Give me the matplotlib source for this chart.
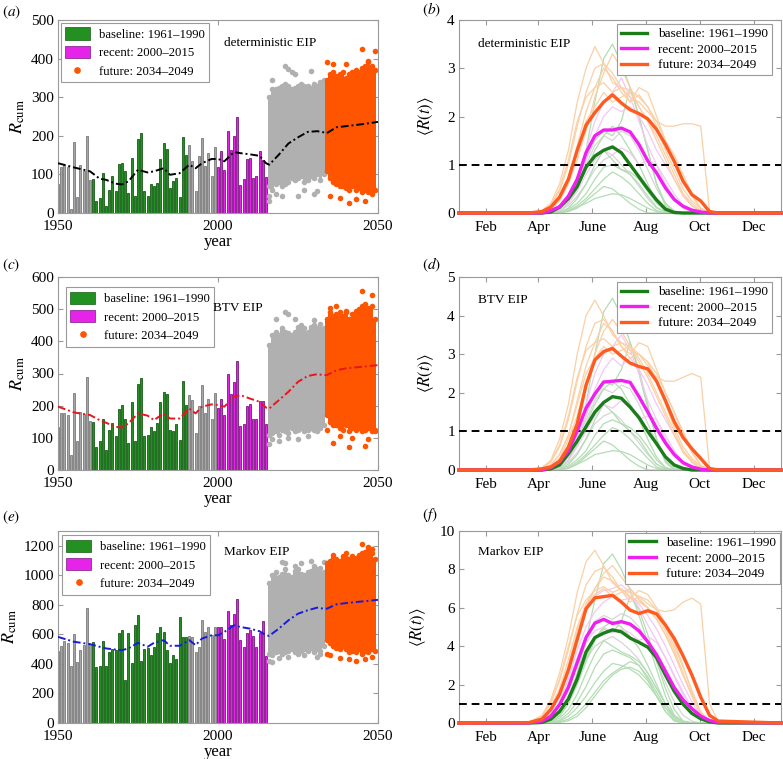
import numpy as np
import matplotlib
matplotlib.use("Agg")
import matplotlib.pyplot as plt
from matplotlib.patches import Patch
from matplotlib.lines import Line2D

plt.rcParams["font.family"] = ["Liberation Serif", "DejaVu Serif"]
plt.rcParams["mathtext.fontset"] = "stix"

# ----------------------------
# Data: left panels (annual R_cum)
# ----------------------------
hist_years = list(range(1950, 2016))

rcum_det = ([75, 120, 125, 118, 10, 183, 42, 125, 110, 200, 85]
            + [88, 30, 39, 103, 17, 60, 97, 56, 126, 129, 109, 53, 143, 45, 193,
               207, 56, 43, 75, 69, 79, 141, 181, 166, 65, 84, 90, 41, 198, 149]
            + [175, 135, 58, 148, 195, 122, 156, 95, 172]
            + [118, 160, 112, 213, 164, 200, 248, 72, 89, 141, 143, 90, 97, 160, 137, 92])

rcum_btv = ([134, 178, 176, 172, 47, 238, 90, 179, 174, 288, 152]
            + [150, 70, 91, 160, 62, 124, 147, 107, 190, 201, 160, 85, 212, 91, 267,
               286, 106, 109, 134, 121, 145, 212, 243, 236, 124, 121, 142, 93, 276, 201]
            + [233, 219, 116, 200, 265, 178, 222, 160, 238]
            + [193, 220, 170, 300, 235, 273, 340, 138, 143, 200, 205, 158, 158, 216, 216, 143])

rcum_mkv = ([488, 519, 555, 540, 384, 605, 414, 492, 526, 780, 537]
            + [550, 381, 388, 554, 386, 482, 500, 493, 610, 628, 292, 610, 408, 662, 729,
               419, 500, 509, 460, 516, 612, 650, 617, 493, 408, 460, 433, 718, 583, 583]
            + [590, 583, 482, 516, 700, 617, 650, 594, 650]
            + [650, 650, 572, 758, 662, 740, 837, 565, 516, 606, 628, 588, 516, 610, 691, 455])

# running mean
trend_years = [1950, 1955, 1960, 1963, 1965, 1968, 1970, 1972, 1975, 1978, 1980, 1983,
               1985, 1988, 1991, 1993, 1995, 1998, 2000, 2002, 2005, 2007, 2010, 2013,
               2015, 2016, 2019, 2022, 2025, 2028, 2031, 2033, 2034, 2037, 2040, 2045, 2050]
trend_det = [129, 118, 108, 89, 86, 76, 74, 82, 112, 105, 108, 116, 99, 103, 125, 116,
             129, 140, 140, 134, 158, 155, 152, 148, 129, 125, 151, 180, 196, 210, 212,
             209, 207, 222, 225, 230, 236]
trend_btv = [197, 179, 171, 155, 147, 134, 132, 145, 176, 169, 155, 176, 160, 160, 191,
             176, 197, 204, 202, 197, 228, 233, 222, 212, 194, 191, 217, 243, 274, 292,
             298, 295, 295, 310, 316, 321, 326]
trend_mkv = [583, 550, 534, 516, 505, 497, 493, 505, 543, 516, 543, 561, 523, 523, 561,
             527, 572, 594, 594, 617, 662, 650, 639, 621, 594, 590, 639, 695, 740, 763,
             781, 774, 774, 803, 812, 823, 834]

# projected ensembles: per-year spread (low, high) plus stray points
proj_years = list(range(2016, 2034))
fut_years = list(range(2034, 2050))

proj_lo_det = [70, 60, 75, 80, 70, 75, 80, 90, 85, 90, 95, 80, 85, 95, 90, 100, 85, 100]
proj_hi_det = [300, 320, 320, 325, 330, 335, 330, 320, 325, 330, 335, 330, 330, 325, 335, 330, 340, 345]
proj_out_det = [(2016, 30), (2016, 45), (2017, 345), (2021, 380), (2022, 372), (2023, 365),
                (2018, 50), (2020, 45), (2025, 45), (2030, 50), (2027, 60), (2031, 58),
                (2024, 360), (2029, 368)]
fut_lo_det = [110, 90, 80, 75, 70, 70, 65, 60, 70, 60, 65, 55, 60, 55, 60, 60]
fut_hi_det = [345, 360, 365, 355, 360, 365, 350, 360, 365, 370, 365, 375, 380, 390, 380, 370]
fut_out_det = [(2034, 390), (2036, 385), (2038, 40), (2041, 25), (2045, 425), (2046, 30),
               (2047, 395), (2049, 420), (2040, 385), (2043, 35), (2048, 50), (2035, 45)]

proj_lo_btv = [110, 115, 120, 110, 125, 120, 115, 130, 120, 125, 130, 120, 125, 130, 125, 135, 130, 140]
proj_hi_btv = [390, 420, 430, 420, 440, 430, 425, 420, 430, 445, 450, 440, 430, 445, 450, 440, 455, 440]
proj_out_btv = [(2016, 80), (2017, 95), (2019, 90), (2022, 100), (2025, 95), (2028, 105),
                (2031, 120), (2021, 490), (2022, 485), (2024, 470), (2030, 465), (2018, 470)]
fut_lo_btv = [170, 150, 140, 140, 130, 125, 140, 120, 130, 125, 130, 120, 125, 130, 120, 125]
fut_hi_btv = [470, 490, 480, 485, 490, 480, 490, 470, 485, 495, 500, 510, 515, 505, 510, 470]
fut_out_btv = [(2035, 505), (2037, 510), (2040, 495), (2045, 555), (2048, 545), (2036, 85),
               (2041, 70), (2046, 75), (2042, 100), (2038, 105), (2034, 125), (2049, 120),
               (2047, 95)]

proj_lo_mkv = [470, 460, 480, 490, 470, 480, 490, 500, 480, 470, 490, 500, 490, 510, 480, 500, 490, 520]
proj_hi_mkv = [950, 1000, 1020, 990, 1010, 1040, 1000, 990, 1030, 1040, 1010, 1000, 1020, 1030, 1060, 1040, 1050, 1020]
proj_out_mkv = [(2016, 420), (2017, 410), (2019, 440), (2022, 450), (2027, 460), (2031, 445),
                (2032, 470), (2020, 1090), (2021, 1080), (2024, 1060), (2026, 1080),
                (2029, 1100), (2033, 1090)]
fut_lo_mkv = [560, 540, 520, 510, 500, 520, 500, 480, 490, 480, 500, 470, 490, 480, 500, 490]
fut_hi_mkv = [1080, 1100, 1120, 1110, 1100, 1130, 1120, 1110, 1130, 1120, 1140, 1150, 1160, 1170, 1150, 1110]
fut_out_mkv = [(2034, 470), (2035, 460), (2038, 440), (2041, 430), (2043, 420), (2046, 430),
               (2048, 445), (2036, 1140), (2040, 1150), (2045, 1210), (2047, 1190), (2048, 1180)]

# ----------------------------
# Data: right panels (seasonal <R(t)>)
# ----------------------------
days = [1, 80, 95, 105, 115, 125, 135, 145, 155, 165, 175, 185, 195, 205, 215, 225,
        235, 245, 255, 265, 275, 285, 295, 366]
month_days = [32, 91, 152, 213, 274, 335]
month_labels = ["Feb", "Apr", "June", "Aug", "Oct", "Dec"]

# deterministic EIP
base_b = [0, 0, 0, 0.02, 0.12, 0.3, 0.55, 0.95, 1.18, 1.3, 1.37, 1.25, 1.0, 0.75, 0.5, 0.27, 0.08, 0.01, 0, 0, 0, 0, 0, 0]
rec_b = [0, 0, 0, 0.05, 0.13, 0.35, 0.7, 1.25, 1.6, 1.72, 1.72, 1.76, 1.68, 1.42, 1.08, 0.83, 0.52, 0.28, 0.14, 0.06, 0.02, 0, 0, 0]
fut_b = [0, 0, 0.03, 0.12, 0.33, 0.7, 1.3, 1.82, 2.08, 2.3, 2.45, 2.28, 2.14, 2.06, 1.95, 1.73, 1.42, 1.07, 0.66, 0.38, 0.25, 0.03, 0, 0]
yrs_b = {
    "orange": [
        [0, 0, 0.05, 0.2, 0.6, 1.3, 2.3, 3.0, 3.45, 3.1, 2.7, 2.6, 2.55, 2.4, 2.2, 1.8, 1.3, 0.9, 0.5, 0.25, 0.1, 0, 0, 0],
        [0, 0, 0.03, 0.15, 0.45, 1.0, 1.8, 2.5, 3.0, 3.1, 2.9, 2.6, 2.3, 2.45, 2.2, 1.9, 1.8, 1.8, 1.85, 1.85, 1.8, 0.05, 0, 0],
        [0, 0, 0.02, 0.1, 0.3, 0.7, 1.3, 1.9, 2.2, 2.5, 2.3, 2.4, 2.5, 2.2, 1.9, 1.6, 1.2, 0.8, 0.4, 0.2, 0.05, 0, 0, 0],
        [0, 0, 0.02, 0.08, 0.25, 0.6, 1.1, 1.7, 2.4, 2.9, 3.3, 3.0, 2.6, 2.2, 1.9, 1.5, 1.1, 0.7, 0.35, 0.15, 0.03, 0, 0, 0],
        [0, 0, 0.04, 0.18, 0.5, 1.1, 1.9, 2.4, 2.6, 2.7, 2.5, 2.6, 2.4, 2.3, 2.1, 1.9, 1.5, 1.1, 0.7, 0.35, 0.1, 0, 0, 0],
        [0, 0, 0.03, 0.1, 0.3, 0.7, 1.4, 2.1, 2.6, 3.0, 2.8, 2.5, 2.3, 2.6, 2.5, 2.0, 1.5, 1.2, 0.8, 0.4, 0.1, 0, 0, 0]],
    "green": [
        [0, 0, 0, 0, 0.05, 0.2, 0.6, 1.3, 2.3, 3.2, 3.5, 3.1, 2.6, 2.0, 1.3, 0.6, 0.15, 0, 0, 0, 0, 0, 0, 0],
        [0, 0, 0, 0, 0, 0.05, 0.15, 0.3, 0.5, 0.7, 0.85, 0.75, 0.6, 0.4, 0.2, 0.05, 0, 0, 0, 0, 0, 0, 0, 0],
        [0, 0, 0, 0.01, 0.08, 0.25, 0.6, 1.1, 1.5, 1.7, 1.6, 1.9, 2.6, 2.0, 1.3, 0.6, 0.2, 0.02, 0, 0, 0, 0, 0, 0],
        [0, 0, 0, 0, 0.02, 0.1, 0.3, 0.6, 1.0, 1.3, 1.1, 0.9, 0.8, 0.6, 0.35, 0.12, 0.02, 0, 0, 0, 0, 0, 0, 0],
        [0, 0, 0, 0, 0, 0.03, 0.1, 0.25, 0.4, 0.55, 0.5, 0.35, 0.2, 0.08, 0, 0, 0, 0, 0, 0, 0, 0, 0, 0],
        [0, 0, 0, 0, 0.02, 0.08, 0.2, 0.4, 0.7, 0.95, 1.0, 0.9, 0.85, 0.7, 0.45, 0.2, 0.05, 0, 0, 0, 0, 0, 0, 0],
        [0, 0, 0, 0.01, 0.05, 0.2, 0.5, 0.9, 1.3, 1.6, 1.8, 1.6, 1.3, 1.0, 0.6, 0.25, 0.05, 0, 0, 0, 0, 0, 0, 0],
        [0, 0, 0, 0, 0.01, 0.05, 0.12, 0.2, 0.3, 0.35, 0.4, 0.38, 0.3, 0.2, 0.1, 0.03, 0, 0, 0, 0, 0, 0, 0, 0]],
    "pink": [
        [0, 0, 0, 0.03, 0.1, 0.3, 0.7, 1.3, 1.9, 2.3, 2.5, 2.8, 2.4, 1.9, 1.4, 1.0, 0.6, 0.3, 0.1, 0.03, 0, 0, 0, 0],
        [0, 0, 0, 0.02, 0.06, 0.2, 0.45, 0.8, 1.1, 1.3, 1.2, 1.35, 1.25, 1.0, 1.1, 1.0, 0.7, 0.4, 0.15, 0.05, 0, 0, 0, 0],
        [0, 0, 0, 0.02, 0.08, 0.25, 0.6, 1.1, 1.6, 2.0, 2.2, 2.1, 2.2, 2.0, 1.7, 1.3, 1.0, 0.7, 0.4, 0.15, 0.03, 0, 0, 0]],
    "gray": [
        [0, 0, 0, 0.02, 0.1, 0.3, 0.6, 1.0, 1.4, 1.6, 1.5, 1.7, 1.6, 1.3, 0.9, 0.5, 0.2, 0.05, 0, 0, 0, 0, 0, 0],
        [0, 0, 0, 0.01, 0.05, 0.15, 0.35, 0.6, 0.9, 1.1, 1.2, 1.0, 0.8, 0.55, 0.3, 0.1, 0.02, 0, 0, 0, 0, 0, 0, 0]],
}

# BTV EIP
base_d = [0, 0, 0, 0.03, 0.13, 0.42, 0.75, 1.12, 1.5, 1.75, 1.9, 1.86, 1.63, 1.36, 1.0, 0.68, 0.34, 0.13, 0.04, 0, 0, 0, 0, 0]
rec_d = [0, 0, 0, 0.06, 0.22, 0.5, 1.02, 1.6, 1.97, 2.28, 2.3, 2.32, 2.27, 1.9, 1.5, 1.08, 0.7, 0.4, 0.19, 0.08, 0.02, 0, 0, 0]
fut_d = [0, 0, 0.03, 0.08, 0.22, 0.6, 1.2, 2.2, 2.85, 3.07, 3.15, 2.95, 2.77, 2.68, 2.62, 2.3, 1.8, 1.25, 0.84, 0.55, 0.3, 0.04, 0, 0]
yrs_d = {
    "orange": [
        [0, 0, 0.06, 0.25, 0.8, 1.7, 3.0, 4.0, 4.4, 4.0, 3.5, 3.3, 3.2, 3.0, 2.8, 2.3, 1.7, 1.1, 0.6, 0.3, 0.1, 0, 0, 0],
        [0, 0, 0.04, 0.2, 0.6, 1.3, 2.3, 3.2, 3.8, 3.9, 3.6, 3.2, 2.9, 3.0, 2.7, 2.4, 2.3, 2.3, 2.4, 2.5, 2.4, 0.05, 0, 0],
        [0, 0, 0.03, 0.12, 0.4, 0.9, 1.7, 2.5, 2.9, 3.2, 3.0, 3.1, 3.2, 2.9, 2.5, 2.0, 1.5, 1.0, 0.5, 0.25, 0.06, 0, 0, 0],
        [0, 0, 0.03, 0.1, 0.3, 0.8, 1.4, 2.2, 3.0, 3.6, 3.9, 3.6, 3.2, 2.8, 2.4, 1.9, 1.4, 0.9, 0.45, 0.2, 0.04, 0, 0, 0],
        [0, 0, 0.05, 0.22, 0.65, 1.4, 2.4, 3.1, 3.3, 3.4, 3.2, 3.3, 3.1, 3.0, 2.8, 2.5, 2.0, 1.5, 0.9, 0.45, 0.12, 0, 0, 0],
        [0, 0, 0.04, 0.13, 0.4, 0.9, 1.8, 2.7, 3.3, 3.8, 3.6, 3.2, 3.0, 3.3, 3.2, 2.6, 2.0, 1.5, 1.0, 0.5, 0.12, 0, 0, 0]],
    "green": [
        [0, 0, 0, 0, 0.06, 0.25, 0.8, 1.7, 3.0, 4.1, 4.45, 4.0, 3.3, 2.5, 1.6, 0.8, 0.2, 0, 0, 0, 0, 0, 0, 0],
        [0, 0, 0, 0, 0, 0.06, 0.2, 0.4, 0.65, 0.9, 1.1, 1.0, 0.8, 0.55, 0.3, 0.08, 0, 0, 0, 0, 0, 0, 0, 0],
        [0, 0, 0, 0.01, 0.1, 0.35, 0.8, 1.4, 2.0, 2.3, 2.2, 2.6, 3.3, 2.6, 1.7, 0.8, 0.25, 0.03, 0, 0, 0, 0, 0, 0],
        [0, 0, 0, 0, 0.03, 0.15, 0.4, 0.8, 1.3, 1.7, 1.5, 1.2, 1.0, 0.8, 0.45, 0.15, 0.03, 0, 0, 0, 0, 0, 0, 0],
        [0, 0, 0, 0, 0, 0.04, 0.15, 0.35, 0.55, 0.75, 0.65, 0.45, 0.25, 0.1, 0, 0, 0, 0, 0, 0, 0, 0, 0, 0],
        [0, 0, 0, 0, 0.03, 0.1, 0.26, 0.5, 0.9, 1.2, 1.3, 1.2, 1.1, 0.9, 0.6, 0.26, 0.06, 0, 0, 0, 0, 0, 0, 0],
        [0, 0, 0, 0.01, 0.06, 0.26, 0.65, 1.2, 1.7, 2.1, 2.3, 2.1, 1.7, 1.3, 0.8, 0.33, 0.06, 0, 0, 0, 0, 0, 0, 0],
        [0, 0, 0, 0, 0.01, 0.06, 0.15, 0.26, 0.4, 0.45, 0.5, 0.48, 0.4, 0.26, 0.13, 0.04, 0, 0, 0, 0, 0, 0, 0, 0]],
    "pink": [
        [0, 0, 0, 0.04, 0.15, 0.4, 0.9, 1.7, 2.5, 3.0, 3.2, 3.5, 3.1, 2.5, 1.8, 1.3, 0.8, 0.4, 0.15, 0.04, 0, 0, 0, 0],
        [0, 0, 0, 0.03, 0.08, 0.25, 0.6, 1.0, 1.4, 1.7, 1.6, 1.8, 1.6, 1.3, 1.4, 1.3, 0.9, 0.5, 0.2, 0.06, 0, 0, 0, 0],
        [0, 0, 0, 0.03, 0.1, 0.33, 0.8, 1.4, 2.1, 2.6, 2.9, 2.7, 2.9, 2.6, 2.2, 1.7, 1.3, 0.9, 0.5, 0.2, 0.04, 0, 0, 0]],
    "gray": [
        [0, 0, 0, 0.03, 0.12, 0.4, 0.8, 1.3, 1.8, 2.1, 2.0, 2.2, 2.1, 1.7, 1.2, 0.7, 0.3, 0.06, 0, 0, 0, 0, 0, 0],
        [0, 0, 0, 0.01, 0.06, 0.2, 0.45, 0.8, 1.2, 1.4, 1.5, 1.3, 1.0, 0.7, 0.4, 0.15, 0.03, 0, 0, 0, 0, 0, 0, 0]],
}

# Markov EIP
base_f = [0, 0, 0.03, 0.2, 0.6, 1.25, 2.3, 3.7, 4.45, 4.68, 4.85, 4.75, 4.42, 4.2, 3.95, 3.4, 2.5, 1.65, 0.98, 0.5, 0.22, 0.06, 0, 0]
rec_f = [0, 0, 0.1, 0.35, 0.95, 1.85, 3.14, 4.45, 5.2, 5.4, 5.18, 5.28, 5.15, 4.8, 4.23, 3.55, 2.7, 1.85, 1.2, 0.75, 0.36, 0.13, 0.03, 0]
fut_f = [0, 0.02, 0.2, 0.7, 1.5, 2.75, 4.35, 5.95, 6.52, 6.58, 6.65, 6.3, 5.88, 5.7, 5.85, 5.68, 5.1, 4.4, 3.5, 2.5, 1.35, 0.4, 0.1, 0]
yrs_f = {
    "orange": [
        [0, 0.03, 0.4, 1.2, 2.6, 4.5, 6.8, 8.4, 9.0, 8.2, 7.3, 6.9, 6.8, 6.6, 6.4, 5.9, 5.0, 4.0, 2.9, 1.7, 0.6, 0.1, 0, 0],
        [0, 0.02, 0.3, 1.0, 2.2, 3.8, 5.7, 7.2, 7.9, 8.1, 7.6, 6.9, 6.3, 6.6, 6.2, 5.9, 5.8, 5.9, 6.3, 6.5, 6.2, 1.0, 0.05, 0],
        [0, 0.02, 0.25, 0.8, 1.8, 3.3, 5.0, 6.2, 6.7, 7.0, 6.6, 6.8, 7.0, 6.5, 6.0, 5.4, 4.6, 3.6, 2.5, 1.4, 0.5, 0.08, 0, 0],
        [0, 0.01, 0.2, 0.7, 1.6, 3.0, 4.6, 6.0, 7.0, 7.8, 8.2, 7.6, 7.0, 6.4, 6.0, 5.4, 4.6, 3.6, 2.5, 1.5, 0.5, 0.08, 0, 0],
        [0, 0.02, 0.35, 1.1, 2.3, 4.0, 5.6, 6.4, 6.9, 7.1, 6.8, 7.0, 6.6, 6.3, 6.0, 5.6, 4.8, 3.8, 2.6, 1.4, 0.4, 0.05, 0, 0],
        [0, 0.01, 0.25, 0.7, 1.6, 3.0, 4.8, 6.2, 7.0, 7.6, 7.4, 6.9, 6.5, 6.9, 6.7, 6.0, 5.2, 4.2, 3.0, 1.6, 0.45, 0.05, 0, 0]],
    "green": [
        [0, 0, 0.02, 0.15, 0.5, 1.3, 2.6, 4.3, 6.4, 8.3, 8.8, 8.0, 6.9, 5.6, 4.2, 2.8, 1.4, 0.4, 0.05, 0, 0, 0, 0, 0],
        [0, 0, 0, 0.02, 0.1, 0.35, 0.8, 1.4, 2.1, 2.7, 3.1, 3.0, 2.8, 2.5, 2.0, 1.4, 0.8, 0.3, 0.05, 0, 0, 0, 0, 0],
        [0, 0, 0.01, 0.1, 0.4, 1.0, 2.0, 3.2, 4.3, 4.9, 4.7, 5.3, 6.6, 5.9, 4.6, 3.2, 1.8, 0.7, 0.1, 0, 0, 0, 0, 0],
        [0, 0, 0.01, 0.05, 0.25, 0.7, 1.5, 2.6, 3.6, 4.3, 4.0, 3.7, 3.5, 3.2, 2.6, 1.8, 1.0, 0.35, 0.05, 0, 0, 0, 0, 0],
        [0, 0, 0, 0.01, 0.06, 0.2, 0.5, 1.0, 1.6, 2.2, 2.6, 2.9, 3.2, 3.0, 2.4, 1.6, 0.8, 0.2, 0, 0, 0, 0, 0, 0],
        [0, 0, 0, 0.03, 0.15, 0.5, 1.1, 1.9, 2.9, 3.6, 3.8, 3.6, 3.4, 3.0, 2.3, 1.4, 0.6, 0.15, 0, 0, 0, 0, 0, 0],
        [0, 0, 0.01, 0.08, 0.35, 1.0, 2.1, 3.4, 4.4, 5.0, 5.3, 5.0, 4.5, 3.9, 3.0, 2.0, 1.0, 0.3, 0.05, 0, 0, 0, 0, 0],
        [0, 0, 0, 0, 0.03, 0.12, 0.35, 0.8, 1.4, 2.0, 2.5, 2.8, 2.9, 2.7, 2.2, 1.4, 0.6, 0.1, 0, 0, 0, 0, 0, 0]],
    "pink": [
        [0, 0.01, 0.1, 0.5, 1.4, 2.8, 4.5, 5.8, 6.6, 6.9, 7.0, 7.2, 6.8, 6.0, 5.1, 4.3, 3.4, 2.5, 1.6, 0.8, 0.25, 0.04, 0, 0],
        [0, 0, 0.05, 0.3, 0.9, 1.9, 3.2, 4.2, 4.8, 5.0, 4.7, 4.9, 4.7, 4.3, 4.5, 4.2, 3.4, 2.4, 1.5, 0.8, 0.3, 0.05, 0, 0],
        [0, 0, 0.05, 0.35, 1.1, 2.3, 3.8, 5.0, 5.8, 6.3, 6.6, 6.4, 6.5, 6.2, 5.6, 4.9, 4.0, 3.0, 2.0, 1.1, 0.4, 0.08, 0, 0]],
    "gray": [
        [0, 0, 0.05, 0.3, 1.0, 2.1, 3.4, 4.5, 5.3, 5.6, 5.4, 5.7, 5.5, 5.0, 4.2, 3.2, 2.1, 1.1, 0.4, 0.1, 0, 0, 0, 0],
        [0, 0, 0.03, 0.2, 0.6, 1.4, 2.4, 3.3, 4.0, 4.3, 4.5, 4.2, 3.8, 3.3, 2.6, 1.8, 1.0, 0.4, 0.1, 0.02, 0, 0, 0, 0]],
}

# ----------------------------
# Styles
# ----------------------------
GREEN, GREEN_EDGE = "#229122", "#145c14"
MAGENTA, MAGENTA_EDGE = "#e623e8", "#7c1684"
GRAY_BAR, GRAY_EDGE = "#a6a6a6", "#7a7a7a"
DOT_GRAY = "#b0b0b0"
ORANGE = "#ff5500"
LINE_GREEN, LINE_MAG, LINE_ORANGE = "#1a7d1a", "#f01ef0", "#ff5a1f"
THIN = {"gray": "#d6d6d6", "green": "#b3ddb3", "pink": "#f4c8f4", "orange": "#fbd0a6"}
SPINE = "#9a9a9a"
LABELS = ["baseline: 1961\u20131990", "recent: 2000\u20132015", "future: 2034\u20132049"]


def style_axes(ax):
    for s in ax.spines.values():
        s.set_color(SPINE)
        s.set_linewidth(0.8)
    ax.tick_params(direction="in", top=True, right=True, length=3.5,
                   color=SPINE, labelsize=11, pad=3)


def bar_colors(year):
    if 1961 <= year <= 1990:
        return GREEN, GREEN_EDGE
    if 2000 <= year <= 2015:
        return MAGENTA, MAGENTA_EDGE
    return GRAY_BAR, GRAY_EDGE


def left_panel(ax, vals, trend, tcolor, p_lo, p_hi, p_out, f_lo, f_hi, f_out,
               ymax, yticks, note, leg_anchor):
    cols = [bar_colors(y) for y in hist_years]
    ax.bar(hist_years, vals, width=0.62, color=[c[0] for c in cols],
           edgecolor=[c[1] for c in cols], linewidth=0.6, zorder=2)

    for yrs, lo, hi, out, col in [(proj_years, p_lo, p_hi, p_out, DOT_GRAY),
                                  (fut_years, f_lo, f_hi, f_out, ORANGE)]:
        ax.bar(yrs, np.subtract(hi, lo), bottom=lo, width=1.0, color=col,
               linewidth=0, zorder=2)
        ax.scatter(yrs, lo, s=16, color=col, linewidths=0, zorder=2)
        ax.scatter(yrs, hi, s=16, color=col, linewidths=0, zorder=2)
        ox, oy = zip(*out)
        ax.scatter(ox, oy, s=16, color=col, linewidths=0, zorder=2)

    ax.plot(trend_years, trend, color=tcolor, lw=1.4, dashes=(4, 1.5, 1, 1.5), zorder=4)

    ax.set_xlim(1950, 2050)
    ax.set_ylim(0, ymax)
    ax.set_xticks([1950, 2000, 2050])
    ax.set_yticks(yticks)
    ax.set_ylabel(r"$R_{\mathrm{cum}}$", fontsize=13, labelpad=3)
    style_axes(ax)
    ax.tick_params(axis="x", pad=5)
    ax.set_xlabel("year", fontsize=12, labelpad=1)

    handles = [Patch(facecolor=GREEN, edgecolor=GREEN_EDGE, linewidth=0.5),
               Patch(facecolor=MAGENTA, edgecolor=MAGENTA_EDGE, linewidth=0.5),
               Line2D([], [], ls="", marker="o", ms=3.8, color=ORANGE)]
    leg = ax.legend(handles, LABELS, loc="upper left", bbox_to_anchor=leg_anchor,
                    bbox_transform=ax.transAxes, borderaxespad=0, fontsize=9.2,
                    fancybox=False, framealpha=1, edgecolor=SPINE,
                    handlelength=1.9, handleheight=1.1, labelspacing=0.4,
                    borderpad=0.35, handletextpad=0.7)
    leg.get_frame().set_linewidth(0.8)
    ax.text(note[1][0], note[1][1], note[0], transform=ax.transAxes,
            fontsize=9.5, va="center", zorder=10)


def right_panel(ax, base, rec, fut, thin, ymax, yticks, note, leg_anchor):
    for key in ["gray", "green", "pink", "orange"]:
        for curve in thin[key]:
            ax.plot(days, curve, color=THIN[key], lw=0.9, zorder=2)
    ax.axhline(1, color="k", lw=1.4, dashes=(4, 2.5), zorder=3)
    ax.plot(days, base, color=LINE_GREEN, lw=2.4, label=LABELS[0], zorder=4, clip_on=False)
    ax.plot(days, rec, color=LINE_MAG, lw=2.4, label=LABELS[1], zorder=5, clip_on=False)
    ax.plot(days, fut, color=LINE_ORANGE, lw=2.4, label=LABELS[2], zorder=6, clip_on=False)

    ax.set_xlim(1, 366)
    ax.set_ylim(0, ymax)
    ax.set_xticks(month_days)
    ax.set_xticklabels(month_labels)
    ax.set_yticks(yticks)
    ax.set_ylabel(r"$\langle R(t)\rangle$", fontsize=12, labelpad=8)
    style_axes(ax)
    ax.tick_params(axis="x", pad=6)

    leg = ax.legend(loc="upper right", bbox_to_anchor=leg_anchor,
                    bbox_transform=ax.transAxes, borderaxespad=0,
                    fontsize=9.5, fancybox=False, framealpha=1, edgecolor=SPINE,
                    handlelength=2.0, labelspacing=0.25, borderpad=0.3,
                    handletextpad=0.8)
    leg.get_frame().set_linewidth(0.8)
    ax.text(0.06, note[1], note[0], transform=ax.transAxes, fontsize=9.5, va="center")


# ----------------------------
# Plot
# ----------------------------
fig = plt.figure(figsize=(7.83, 7.59), dpi=100)

W, H = 783.0, 759.0
rows = [(20, 213), (277, 470), (531, 723)]
left_x, left_w = 58 / W, 320 / W
right_x, right_w = 459 / W, 322 / W


def rect(x, w, top, bot):
    return [x, 1 - bot / H, w, (bot - top) / H]


ax_a = fig.add_axes(rect(left_x, left_w, *rows[0]))
ax_b = fig.add_axes(rect(right_x, right_w, *rows[0]))
ax_c = fig.add_axes(rect(left_x, left_w, *rows[1]))
ax_d = fig.add_axes(rect(right_x, right_w, *rows[1]))
ax_e = fig.add_axes(rect(left_x, left_w, *rows[2]))
ax_f = fig.add_axes(rect(right_x, right_w, *rows[2]))

left_panel(ax_a, rcum_det, trend_det, "black", proj_lo_det, proj_hi_det, proj_out_det,
           fut_lo_det, fut_hi_det, fut_out_det, 500, range(0, 501, 100),
           ("deterministic EIP", (0.52, 0.88)), (0.009, 0.985))
left_panel(ax_c, rcum_btv, trend_btv, "#e8141e", proj_lo_btv, proj_hi_btv, proj_out_btv,
           fut_lo_btv, fut_hi_btv, fut_out_btv, 600, range(0, 601, 100),
           ("BTV EIP", (0.485, 0.84)), (0.025, 0.948))
left_panel(ax_e, rcum_mkv, trend_mkv, "#1a1ad8", proj_lo_mkv, proj_hi_mkv, proj_out_mkv,
           fut_lo_mkv, fut_hi_mkv, fut_out_mkv, 1300, range(0, 1201, 200),
           ("Markov EIP", (0.52, 0.89)), (0.0125, 0.979))

right_panel(ax_b, base_b, rec_b, fut_b, yrs_b, 4, range(0, 5),
            ("deterministic EIP", 0.875), (0.972, 0.979))
right_panel(ax_d, base_d, rec_d, fut_d, yrs_d, 5, range(0, 6),
            ("BTV EIP", 0.88), (0.972, 0.974))
right_panel(ax_f, base_f, rec_f, fut_f, yrs_f, 10, range(0, 11, 2),
            ("Markov EIP", 0.89), (0.998, 0.99))

for lab, x, y in [("a", 2, 12), ("b", 422, 10), ("c", 2, 265),
                  ("d", 422, 265), ("e", 2, 517), ("f", 422, 515)]:
    fig.text(x / W, 1 - y / H, "$(%s)$" % lab, fontsize=11, va="center", ha="left")

fig.savefig("out.png", dpi=100)
plt.close(fig)
